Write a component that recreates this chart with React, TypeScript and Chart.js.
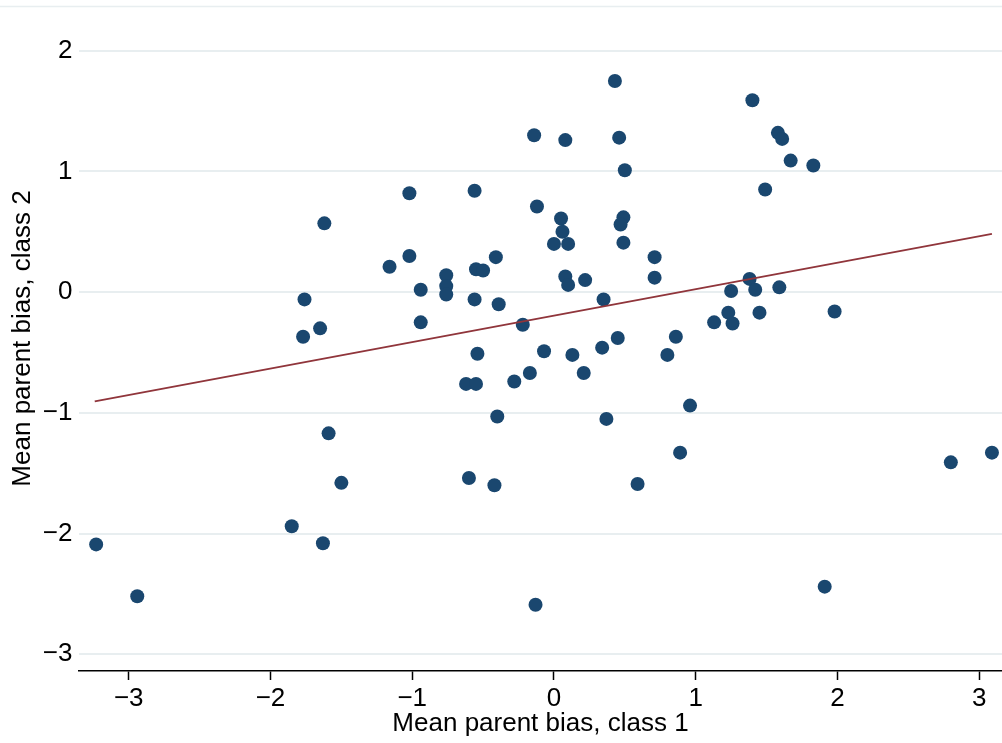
import React, { useEffect, useRef } from "react";
import { Chart, registerables } from "chart.js";

Chart.register(...registerables);

const classOneBias: number[] = [
  -3.23, -2.94, -1.85, -1.63, -1.62, -1.76, -1.65, -1.77, -1.59, -1.5,
  0.43, -0.14, 0.08, 0.46, 0.5, -1.02, -0.56, -0.12, 0.05, 0.06,
  0.0, 0.1, 0.49, 0.47, 0.49, 0.71, 0.71, -1.16, -1.02, -0.94,
  -0.76, -0.76, -0.76, -0.55, -0.5, -0.41, -0.56, -0.39, -0.94, -0.22,
  0.08, 0.1, 0.22, 0.35, -0.54, -0.62, -0.55, -0.28, -0.17, -0.07,
  0.13, 0.21, 0.34, 0.45, 0.86, 0.8, 0.96, -0.4, 0.37, 0.89,
  -0.6, -0.42, 0.59, -0.13, 1.4, 1.58, 1.61, 1.67, 1.83, 1.49,
  1.38, 1.25, 1.42, 1.59, 1.23, 1.26, 1.13, 1.45, 1.98, 2.8,
  3.09, 1.91,
];

const classTwoBias: number[] = [
  -2.09, -2.52, -1.94, -2.08, 0.57, -0.06, -0.3, -0.37, -1.17, -1.58,
  1.75, 1.3, 1.26, 1.28, 1.01, 0.82, 0.84, 0.71, 0.61, 0.5,
  0.4, 0.4, 0.62, 0.56, 0.41, 0.29, 0.12, 0.21, 0.3, 0.02,
  0.14, 0.05, -0.02, 0.19, 0.18, 0.29, -0.06, -0.1, -0.25, -0.27,
  0.13, 0.06, 0.1, -0.06, -0.51, -0.76, -0.76, -0.74, -0.67, -0.49,
  -0.52, -0.67, -0.46, -0.38, -0.37, -0.52, -0.94, -1.03, -1.05, -1.33,
  -1.54, -1.6, -1.59, -2.59, 1.59, 1.32, 1.27, 1.09, 1.05, 0.85,
  0.11, 0.01, 0.02, 0.04, -0.17, -0.26, -0.25, -0.17, -0.16, -1.41,
  -1.33, -2.44,
];

const fitLineX: number[] = [-3.24, 3.09];
const fitLineY: number[] = [-0.905, 0.483];

const xTickValues: number[] = [-3, -2, -1, 0, 1, 2, 3];
const yTickValues: number[] = [-3, -2, -1, 0, 1, 2];

const FONT = "'Liberation Sans', Arial, Helvetica, sans-serif";

const fmt = (v: number) => (v < 0 ? "\u2212" + Math.abs(v) : String(v));

export default function App() {
  const ref = useRef<HTMLCanvasElement | null>(null);

  useEffect(() => {
    if (!ref.current) return;
    const topLine = {
      id: "topLine",
      beforeDraw(chart: any) {
        const ctx = chart.ctx;
        ctx.save();
        ctx.strokeStyle = "#e8eef0";
        ctx.lineWidth = 1.5;
        ctx.beginPath();
        ctx.moveTo(0, 6.5);
        ctx.lineTo(chart.width, 6.5);
        ctx.stroke();
        ctx.restore();
      },
    };
    const chart = new Chart(ref.current, {
      type: "scatter",
      data: {
        datasets: [
          {
            type: "line",
            data: fitLineX.map((x, i) => ({ x, y: fitLineY[i] })),
            borderColor: "#90353b",
            borderWidth: 2,
            pointRadius: 0,
            fill: false,
            order: 0,
          } as any,
          {
            data: classOneBias.map((x, i) => ({ x, y: classTwoBias[i] })),
            backgroundColor: "#1a476f",
            borderWidth: 0,
            pointRadius: 7,
            order: 1,
          },
        ],
      },
      options: {
        animation: false,
        responsive: false,
        layout: { autoPadding: false, padding: { top: 6, right: 0, left: 0, bottom: 0 } },
        plugins: { legend: { display: false }, tooltip: { enabled: false } },
        scales: {
          x: {
            type: "linear",
            min: -3.351,
            max: 3.161,
            afterFit: (s: any) => {
              s.height = 72;
              s.paddingLeft = 0;
              s.paddingRight = 0;
            },
            afterBuildTicks: (s: any) => {
              s.ticks = xTickValues.map((v) => ({ value: v }));
            },
            border: { display: true, color: "#000", width: 1.5 },
            grid: {
              display: true,
              drawOnChartArea: false,
              drawTicks: true,
              tickLength: 9,
              tickWidth: 1.5,
              color: "#000",
            },
            ticks: {
              padding: 3,
              color: "#000",
              font: { family: FONT, size: 26 },
              maxRotation: 0,
              callback: (v: any) => fmt(Number(v)),
            },
            title: {
              display: true,
              text: "Mean parent bias, class 1",
              color: "#000",
              font: { family: FONT, size: 26 },
              padding: { top: 0, bottom: 4 },
            },
          },
          y: {
            type: "linear",
            min: -3.139,
            max: 2.371,
            afterFit: (s: any) => {
              s.width = 79;
              s.paddingTop = 0;
              s.paddingBottom = 0;
            },
            afterBuildTicks: (s: any) => {
              s.ticks = yTickValues.map((v) => ({ value: v }));
            },
            border: { display: false },
            grid: {
              display: true,
              drawTicks: false,
              color: "#e8eef0",
              lineWidth: 2,
            },
            ticks: {
              padding: 6.5,
              color: "#000",
              font: { family: FONT, size: 26 },
              callback: (v: any) => fmt(Number(v)),
            },
            title: {
              display: true,
              text: "Mean parent bias, class 2",
              color: "#000",
              font: { family: FONT, size: 26 },
              padding: { top: 7, bottom: 0 },
            },
          },
        },
      },
      plugins: [topLine],
    });
    return () => chart.destroy();
  }, []);

  return (
    <div style={{ position: "absolute", left: 0, top: 0, width: 1002, height: 743, background: "#fff" }}>
      <canvas ref={ref} width={1002} height={743} style={{ display: "block" }} />
    </div>
  );
}
